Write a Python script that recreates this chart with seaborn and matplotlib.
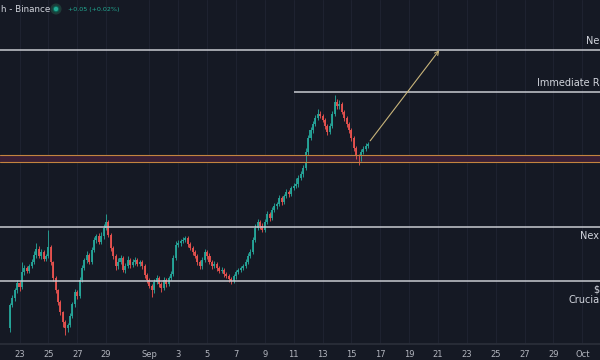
import numpy as np
import pandas as pd
import matplotlib
matplotlib.use("Agg")
import matplotlib.pyplot as plt
import matplotlib.dates as mdates
from matplotlib.patches import Ellipse
import seaborn as sns

# 4h candles, price (arbitrary units, axis not shown)
first_open = 32
closes = [
    55, 62, 70, 77, 73, 88, 92, 89, 94, 98,
    105, 111, 104, 108, 101, 104, 113, 98, 82, 70,
    58, 48, 38, 32, 35, 44, 56, 68, 64, 80,
    92, 100, 105, 98, 110, 120, 124, 118, 124, 132,
    138, 125, 112, 104, 94, 98, 102, 90, 94, 100,
    95, 98, 100, 96, 98, 94, 85, 80, 74, 70,
    78, 82, 76, 72, 80, 76, 82, 86, 102, 115,
    117, 119, 120, 122, 116, 112, 108, 104, 98, 94,
    100, 108, 104, 98, 94, 96, 92, 89, 90, 86,
    84, 81, 79, 84, 88, 90, 92, 94, 98, 104,
    108, 120, 132, 138, 134, 130, 138, 146, 142, 150,
    154, 156, 162, 158, 164, 168, 166, 172, 174, 176,
    182, 186, 192, 208, 222, 230, 236, 242, 246, 244,
    240, 234, 228, 234, 246, 258, 254, 256, 248, 242,
    236, 230, 222, 212, 204, 202, 208, 211, 214, 216,
]
upper_wick = [
    2, 3, 2, 3, 2, 10, 3, 2, 2, 3,
    4, 6, 3, 3, 2, 2, 17, 2, 1, 2,
    1, 2, 1, 2, 2, 3, 2, 3, 2, 3,
    3, 2, 4, 2, 3, 3, 2, 3, 4, 4,
    8, 2, 2, 2, 2, 4, 3, 2, 3, 4,
    2, 3, 3, 2, 2, 2, 2, 2, 2, 2,
    3, 3, 2, 2, 3, 2, 2, 3, 3, 4,
    3, 2, 3, 2, 2, 2, 2, 2, 2, 2,
    3, 3, 2, 3, 2, 3, 2, 2, 3, 2,
    2, 2, 2, 2, 2, 2, 2, 2, 3, 3,
    3, 3, 4, 3, 2, 3, 3, 3, 2, 3,
    3, 2, 3, 2, 2, 3, 2, 2, 3, 6,
    3, 3, 3, 4, 3, 3, 3, 3, 5, 3,
    2, 2, 2, 3, 3, 7, 3, 4, 2, 2,
    2, 2, 2, 2, 2, 2, 3, 3, 3, 2,
]
lower_wick = [
    4, 2, 3, 3, 4, 2, 3, 2, 2, 2,
    2, 3, 2, 3, 2, 2, 2, 3, 3, 3,
    3, 3, 5, 7, 4, 2, 2, 3, 3, 2,
    2, 2, 3, 2, 2, 2, 3, 2, 2, 3,
    2, 2, 3, 3, 4, 3, 2, 2, 3, 2,
    3, 2, 3, 2, 2, 3, 3, 3, 2, 7,
    3, 2, 3, 4, 2, 3, 2, 2, 2, 2,
    2, 3, 2, 2, 3, 2, 3, 2, 3, 3,
    3, 2, 3, 2, 3, 2, 3, 2, 2, 3,
    2, 3, 3, 2, 3, 2, 2, 2, 2, 2,
    2, 2, 2, 2, 3, 2, 2, 2, 3, 2,
    2, 3, 2, 3, 2, 2, 3, 2, 2, 2,
    3, 2, 3, 2, 3, 2, 3, 2, 2, 2,
    2, 3, 3, 2, 2, 2, 3, 3, 2, 3,
    3, 3, 3, 3, 3, 7, 3, 2, 2, 2,
]

# horizontal levels
level_next_res = 310
level_immediate = 268
immediate_start = "2024-09-11"
band_low, band_high = 198, 205
level_next_sup = 133
level_crucial = 79
arrow_target = ("2024-09-21 05:00", 312)

# the level captions run off the right edge in the picture; only these parts show
cap_next_res = "Ne"
cap_immediate = "Immediate R"
cap_next_sup = "Nex"
cap_price = "$"
cap_crucial = "Crucia"

tick_dates = ["2024-08-23", "2024-08-25", "2024-08-27", "2024-08-29", "2024-09-01",
              "2024-09-03", "2024-09-05", "2024-09-07", "2024-09-09", "2024-09-11",
              "2024-09-13", "2024-09-15", "2024-09-17", "2024-09-19", "2024-09-21",
              "2024-09-23", "2024-09-25", "2024-09-27", "2024-09-29", "2024-10-01"]
tick_labels = ["23", "25", "27", "29", "Sep", "3", "5", "7", "9", "11",
               "13", "15", "17", "19", "21", "23", "25", "27", "29", "Oct"]

bg = "#151924"
up_col = "#26a69a"
down_col = "#e8524f"
level_col = "#c9cbd1"
text_col = "#d1d4dc"

sns.set_theme(style="dark", rc={
    "axes.facecolor": bg, "figure.facecolor": bg,
    "axes.edgecolor": "#2a2e39", "grid.color": "#1e2230",
})

times = pd.date_range("2024-08-22 08:00", periods=len(closes), freq="4h")
x = mdates.date2num(times)
closes = np.array(closes, dtype=float)
opens = np.concatenate([[first_open], closes[:-1]])
highs = np.maximum(opens, closes) + np.array(upper_wick)
lows = np.minimum(opens, closes) - np.array(lower_wick)
colors = np.where(closes >= opens, up_col, down_col)

fig = plt.figure(figsize=(6, 3.6), dpi=100)
ax = fig.add_axes([0, 16 / 360, 1, 344 / 360])

ax.vlines(x, lows, highs, colors=colors, linewidth=0.7, alpha=0.9)
body = np.abs(closes - opens)
body = np.where(body < 0.8, 0.8, body)
ax.bar(x, body, bottom=np.minimum(opens, closes), width=0.14,
       color=colors, linewidth=0, alpha=0.92)

# levels
ax.axhline(level_next_res, color=level_col, lw=1.1)
ax.hlines(level_immediate, mdates.date2num(pd.Timestamp(immediate_start)),
          mdates.date2num(pd.Timestamp("2024-10-05")), color=level_col, lw=1.1)
ax.axhspan(band_low, band_high, color="#3a1f35", lw=0)
ax.axhline(band_low, color="#c4843f", lw=0.8)
ax.axhline(band_high, color="#c4843f", lw=0.8)
ax.axhline(level_next_sup, color=level_col, lw=1.1)
ax.axhline(level_crucial, color=level_col, lw=1.1)

ax.annotate("", xy=(mdates.date2num(pd.Timestamp(arrow_target[0])), arrow_target[1]),
            xytext=(x[-1] + 0.02, closes[-1] + 1),
            arrowprops=dict(arrowstyle="->", color="#c8b47a", lw=0.8, mutation_scale=7))

tr = ax.get_yaxis_transform()
kw = dict(transform=tr, color=text_col, fontsize=7, va="center", ha="right")
ax.text(0.999, level_next_res + 9, cap_next_res, **kw)
ax.text(0.999, level_immediate + 9, cap_immediate, **kw)
ax.text(0.999, level_next_sup - 9, cap_next_sup, **kw)
ax.text(0.999, level_crucial - 8, cap_price, **kw)
ax.text(0.999, level_crucial - 19, cap_crucial, **kw)

ax.set_xlim(mdates.date2num(pd.Timestamp("2024-08-21 15:34")),
            mdates.date2num(pd.Timestamp("2024-10-02 05:30")))
ax.set_ylim(16, 360)
ax.set_xticks(mdates.date2num(pd.to_datetime(tick_dates)))
ax.set_xticklabels(tick_labels)
ax.set_yticks([])
ax.tick_params(axis="x", length=0, labelsize=6, labelcolor="#b2b5be", pad=4)
ax.grid(True, axis="x", color="#1e2230", lw=0.8)
for s in ["top", "left", "right"]:
    ax.spines[s].set_visible(False)
ax.spines["bottom"].set_color("#2a2e39")

# header
fig.text(1 / 600, 1 - 9 / 360, "h - Binance", color=text_col, fontsize=6.3,
         va="center", ha="left")
fig.add_artist(Ellipse((56 / 600, 1 - 9 / 360), 9 / 600, 9 / 360,
                       transform=fig.transFigure, facecolor="#0d5c50",
                       edgecolor="#1e3b38", lw=1.5))
fig.add_artist(Ellipse((56 / 600, 1 - 9 / 360), 4.5 / 600, 4.5 / 360,
                       transform=fig.transFigure, facecolor="#22ab94", lw=0))
fig.text(68 / 600, 1 - 9 / 360, "+0.05 (+0.02%)", color="#22ab94", fontsize=4.6,
         va="center", ha="left")

fig.savefig("out.png", dpi=100)
